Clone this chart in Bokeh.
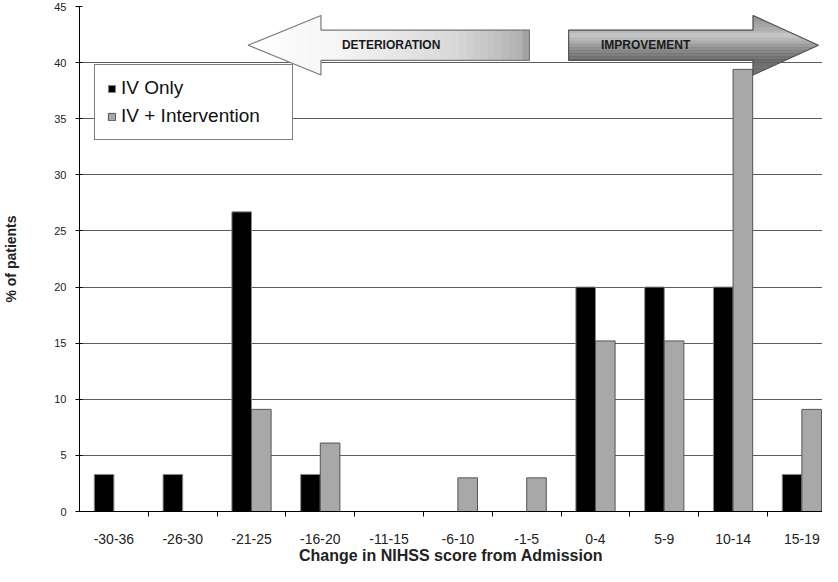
from bokeh.plotting import figure
from bokeh.models import FixedTicker, Legend, LegendItem, ColumnDataSource
from bokeh.core.properties import value
from bokeh.embed import file_html
from bokeh.resources import INLINE

# ---------------- data ----------------
categories = ["-30-36", "-26-30", "-21-25", "-16-20", "-11-15", "-6-10",
              "-1-5", "0-4", "5-9", "10-14", "15-19"]
iv_only = [3.3, 3.3, 26.7, 3.3, 0, 0, 0, 20.0, 20.0, 20.0, 3.3]
iv_intervention = [0, 0, 9.1, 6.1, 0, 3.0, 3.0, 15.2, 15.2, 39.4, 9.1]
series_names = ["IV Only", "IV + Intervention"]
y_ticks = [0, 5, 10, 15, 20, 25, 30, 35, 40, 45]
arrow_labels = ["DETERIORATION", "IMPROVEMENT"]

FONT = "Liberation Sans"

centers = [i + 0.5 for i in range(len(categories))]
bounds = [i for i in range(1, len(categories))]
bw = 0.285

src = ColumnDataSource(dict(
    xa=[c - bw / 2 for c in centers],
    xb=[c + bw / 2 for c in centers],
    a=iv_only,
    b=iv_intervention,
))

p = figure(width=822, height=566, x_range=(0, 10.8), y_range=(0, 45),
           output_backend="svg", toolbar_location=None,
           min_border_left=78, min_border_right=0, min_border_top=6,
           min_border_bottom=40)
p.outline_line_color = None
p.background_fill_color = "white"

# grid
p.xgrid.visible = False
p.ygrid.ticker = FixedTicker(ticks=y_ticks)
p.ygrid.grid_line_color = "#5c5c5c"
p.ygrid.grid_line_width = 1.2

# y axis
p.yaxis.ticker = FixedTicker(ticks=y_ticks)
p.yaxis.axis_line_color = "black"
p.yaxis.major_tick_line_color = "black"
p.yaxis.major_tick_in = 3
p.yaxis.major_tick_out = 4
p.yaxis.minor_tick_line_color = None
p.yaxis.major_label_standoff = 9
p.yaxis.major_label_text_font = FONT
p.yaxis.major_label_text_font_size = "11px"
p.yaxis.major_label_text_color = "#222222"
p.yaxis.axis_label = "% of patients"
p.yaxis.axis_label_text_font = FONT
p.yaxis.axis_label_text_font_style = "bold"
p.yaxis.axis_label_text_font_size = "14px"
p.yaxis.axis_label_text_color = "#222222"
p.yaxis.axis_label_standoff = 32

# x axis
p.xaxis.ticker = FixedTicker(ticks=centers, minor_ticks=bounds)
p.xaxis.major_label_overrides = {c: lab for c, lab in zip(centers, categories)}
p.xaxis.axis_line_color = "black"
p.xaxis.major_tick_line_color = None
p.xaxis.major_tick_in = 0
p.xaxis.major_tick_out = 0
p.xaxis.minor_tick_line_color = "black"
p.xaxis.minor_tick_in = 0
p.xaxis.minor_tick_out = 5
p.xaxis.major_label_standoff = 17
p.xaxis.major_label_text_font = FONT
p.xaxis.major_label_text_font_size = "14px"
p.xaxis.major_label_text_color = "#222222"
p.xaxis.axis_label = "Change in NIHSS score from Admission"
p.xaxis.axis_label_text_font = FONT
p.xaxis.axis_label_text_font_style = "bold"
p.xaxis.axis_label_text_font_size = "16px"
p.xaxis.axis_label_text_color = "#222222"
p.xaxis.axis_label_standoff = 0

# bars
ra = p.vbar(x="xa", top="a", width=bw, bottom=0, source=src,
            fill_color="black", line_color="#8a8a8a", line_width=1)
rb = p.vbar(x="xb", top="b", width=bw, bottom=0, source=src,
            fill_color="#a8a8a8", line_color="#555555", line_width=1)

# ---------------- arrows (decoration) ----------------
YC, HEAD_H, BODY_H = 41.55, 2.65, 1.35


def lerp_color(stops, t):
    t = max(0.0, min(1.0, t))
    for (t0, c0), (t1, c1) in zip(stops[:-1], stops[1:]):
        if t0 <= t <= t1:
            f = 0 if t1 == t0 else (t - t0) / (t1 - t0)
            rgb = [int(round(c0[i] + (c1[i] - c0[i]) * f)) for i in range(3)]
            return "#%02x%02x%02x" % tuple(rgb)
    return "#%02x%02x%02x" % stops[-1][1]


# Deterioration: left pointing, horizontal gradient (vertical strips)
d_tip, d_base, d_tail = 2.45, 3.51, 6.54
d_stops = [(0.0, (255, 255, 255)), (0.3, (246, 246, 246)), (0.75, (215, 215, 215)),
           (0.97, (178, 178, 178)), (1.0, (150, 150, 150))]
xs_l, ys_l, cs_l = [], [], []


def d_half(x):
    if x <= d_base:
        return HEAD_H * (x - d_tip) / (d_base - d_tip)
    return BODY_H


for seg0, seg1, n, head in [(d_tip, d_base, 12, True), (d_base, d_tail, 30, False)]:
    for k in range(n):
        x0 = seg0 + (seg1 - seg0) * k / n
        x1 = seg0 + (seg1 - seg0) * (k + 1) / n
        if head:
            h0, h1 = d_half(x0), d_half(x1)
        else:
            h0 = h1 = BODY_H
        xs_l.append([x0, x1, x1, x0])
        ys_l.append([YC - h0, YC - h1, YC + h1, YC + h0])
        cs_l.append(lerp_color(d_stops, ((x0 + x1) / 2 - d_tip) / (d_tail - d_tip)))
p.patches(xs_l, ys_l, fill_color=cs_l, line_color=cs_l, line_width=0.6)
p.patch([d_tip, d_base, d_base, d_tail, d_tail, d_base, d_base, d_tip],
        [YC, YC + HEAD_H, YC + BODY_H, YC + BODY_H, YC - BODY_H, YC - BODY_H,
         YC - HEAD_H, YC],
        fill_color=None, line_color="#7a7a7a", line_width=1.2)

# Improvement: right pointing, metallic vertical gradient (horizontal strips)
i_tail, i_base, i_tip = 7.11, 9.79, 10.74
i_stops = [(0.0, (120, 120, 120)), (0.25, (100, 100, 100)), (0.45, (140, 140, 140)),
           (0.68, (200, 200, 200)), (0.75, (175, 175, 175)), (1.0, (140, 140, 140))]
xs_r, ys_r, cs_r = [], [], []


def i_right(y):
    return i_tip - (i_tip - i_base) * abs(y - YC) / HEAD_H


segs = [(YC - HEAD_H, YC - BODY_H, i_base), (YC - BODY_H, YC, i_tail),
        (YC, YC + BODY_H, i_tail), (YC + BODY_H, YC + HEAD_H, i_base)]
for y0s, y1s, xl in segs:
    n = 10
    for k in range(n):
        y0 = y0s + (y1s - y0s) * k / n
        y1 = y0s + (y1s - y0s) * (k + 1) / n
        xs_r.append([xl, i_right(y0), i_right(y1), xl])
        ys_r.append([y0, y0, y1, y1])
        cs_r.append(lerp_color(i_stops, ((y0 + y1) / 2 - (YC - HEAD_H)) / (2 * HEAD_H)))
p.patches(xs_r, ys_r, fill_color=cs_r, line_color=cs_r, line_width=0.6)
p.patch([i_tail, i_base, i_base, i_tip, i_base, i_base, i_tail],
        [YC + BODY_H, YC + BODY_H, YC + HEAD_H, YC, YC - HEAD_H, YC - BODY_H,
         YC - BODY_H],
        fill_color=None, line_color="#555555", line_width=1.2)

tsrc = ColumnDataSource(dict(x=[4.53, 8.23], y=[YC, YC], t=arrow_labels))
p.text(x="x", y="y", text="t", source=tsrc, text_font=value(FONT),
       text_font_style="bold", text_font_size="12px", text_color="#1a1a1a",
       text_align="center", text_baseline="middle")

# legend
legend = Legend(items=[LegendItem(label=series_names[0], renderers=[ra]),
                       LegendItem(label=series_names[1], renderers=[rb])],
                location=(15, 371))
legend.label_text_font = FONT
legend.label_text_font_size = "19px"
legend.label_text_color = "#111111"
legend.glyph_width = 9
legend.glyph_height = 9
legend.label_standoff = 5
legend.label_height = 20
legend.label_width = 159
legend.spacing = 6
legend.padding = 12
legend.border_line_color = "black"
legend.border_line_width = 1
legend.background_fill_color = "white"
legend.background_fill_alpha = 1.0
p.add_layout(legend)

open("out.html", "w").write(file_html(p, INLINE))
